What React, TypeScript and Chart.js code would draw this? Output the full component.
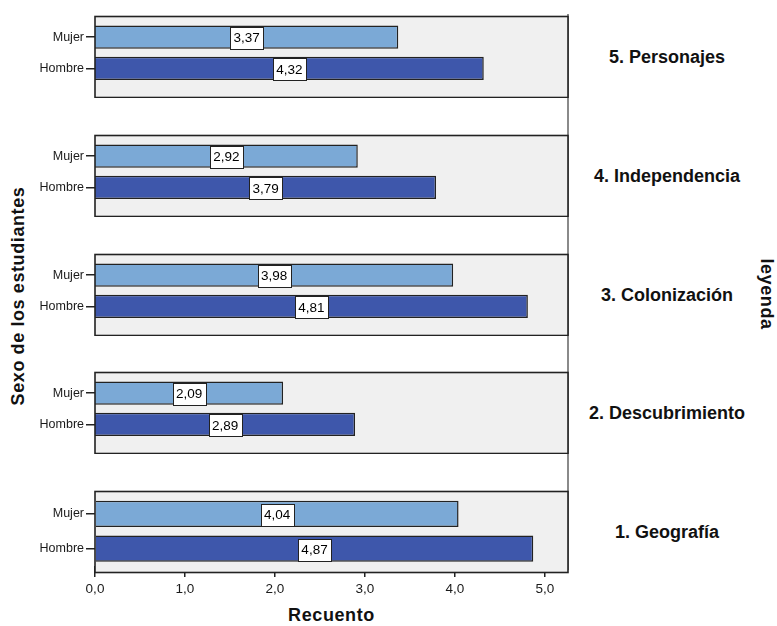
import React, { useEffect, useRef } from 'react';
import { Chart, registerables } from 'chart.js';

Chart.register(...registerables);

// ---- Data ----
const PANEL_NAMES = ['5. Personajes', '4. Independencia', '3. Colonización', '2. Descubrimiento', '1. Geografía'];
const SEX_LABELS = ['Mujer', 'Hombre'];
const MUJER = [3.37, 2.92, 3.98, 2.09, 4.04];
const HOMBRE = [4.32, 3.79, 4.81, 2.89, 4.87];
const X_TICKS = [0, 1, 2, 3, 4, 5];
const X_MAX = 5.256;
const X_TITLE = 'Recuento';
const Y_TITLE = 'Sexo de los estudiantes';
const LEGEND_TITLE = 'leyenda';

// ---- Layout / style ----
const W = 777;
const H = 626;
const PLOT_LEFT = 95;
const PLOT_RIGHT = 568;
const FIRST_TOP = 14;
const STEP = 118.75;
const PANEL_H = 81;
const INSET_TOP = 5;
const INSET_BOTTOM = 4;
const CANVAS_MARGIN = 2;
const FONT = '"Liberation Sans", Arial, Helvetica, sans-serif';
const LIGHT = '#7ba9d6';
const DARK = '#3e57ab';
const PANEL_FILL = '#f0f0f0';
const LINE = '#222222';

Chart.defaults.font.family = FONT;

const fmt = (v: number, d: number) => v.toFixed(d).replace('.', ',');

function panelTop(i: number) {
  return Math.round(FIRST_TOP + i * STEP);
}

function Panel({ index }: { index: number }) {
  const ref = useRef<HTMLCanvasElement>(null);
  const isLast = index === PANEL_NAMES.length - 1;
  const top = panelTop(index) - CANVAS_MARGIN;
  const height = isLast ? H - top : PANEL_H + 2 * CANVAS_MARGIN + 1;
  const areaBottom = CANVAS_MARGIN + PANEL_H - INSET_BOTTOM;

  useEffect(() => {
    const values = [MUJER[index], HOMBRE[index]];
    const panelPlugin = {
      id: 'panelBox',
      beforeDatasetsDraw(chart: any) {
        const { ctx, chartArea } = chart;
        ctx.save();
        ctx.fillStyle = PANEL_FILL;
        ctx.fillRect(chartArea.left, chartArea.top - INSET_TOP, chartArea.right - chartArea.left, PANEL_H);
        ctx.restore();
      },
      afterDatasetsDraw(chart: any) {
        const { ctx, chartArea } = chart;
        ctx.save();
        ctx.strokeStyle = LINE;
        ctx.lineWidth = 1.6;
        ctx.strokeRect(chartArea.left, chartArea.top - INSET_TOP, chartArea.right - chartArea.left, PANEL_H);
        const meta = chart.getDatasetMeta(0);
        ctx.font = `13.5px ${FONT}`;
        ctx.textAlign = 'center';
        ctx.textBaseline = 'middle';
        meta.data.forEach((bar: any, j: number) => {
          const p = bar.getProps(['x', 'y', 'base'], true);
          const cx = (p.base + p.x) / 2;
          const cy = p.y + 1;
          const text = fmt(chart.data.datasets[0].data[j], 2);
          const tw = ctx.measureText(text).width;
          const bw = Math.round(tw + 7);
          const bh = 22;
          const bx = Math.round(cx - bw / 2) + 0.5;
          const by = Math.round(cy - bh / 2) + 0.5;
          ctx.fillStyle = '#ffffff';
          ctx.fillRect(bx, by, bw, bh);
          ctx.strokeStyle = LINE;
          ctx.lineWidth = 1;
          ctx.strokeRect(bx, by, bw, bh);
          ctx.fillStyle = '#000000';
          ctx.fillText(text, cx, cy + 0.5);
        });
        ctx.restore();
      },
    };

    const chart = new Chart(ref.current as HTMLCanvasElement, {
      type: 'bar',
      data: {
        labels: SEX_LABELS,
        datasets: [
          {
            data: values,
            backgroundColor: [LIGHT, DARK],
            borderColor: LINE,
            borderWidth: 1.5,
            barPercentage: 0.75,
            categoryPercentage: 1,
          },
        ],
      },
      options: {
        indexAxis: 'y',
        responsive: false,
        animation: false,
        events: [],
        layout: {
          padding: {
            left: 0,
            right: W - PLOT_RIGHT,
            top: CANVAS_MARGIN + INSET_TOP,
            bottom: isLast ? 0 : height - areaBottom,
          },
        },
        plugins: { legend: { display: false }, tooltip: { enabled: false }, title: { display: false } },
        scales: {
          x: {
            type: 'linear',
            min: 0,
            max: X_MAX,
            display: isLast,
            afterBuildTicks: (scale: any) => {
              scale.ticks = X_TICKS.map((v) => ({ value: v }));
            },
            afterFit: (scale: any) => {
              scale.height = height - areaBottom;
            },
            ticks: {
              includeBounds: false,
              callback: (v: any) => fmt(Number(v), 1),
              font: { size: 13.5 },
              color: '#1a1a1a',
              padding: 4,
              maxRotation: 0,
            },
            grid: {
              display: true,
              drawOnChartArea: false,
              drawTicks: true,
              tickLength: 11,
              color: LINE,
              lineWidth: 1.5,
            },
            border: { display: false },
          },
          y: {
            type: 'category',
            offset: true,
            afterFit: (scale: any) => {
              scale.width = PLOT_LEFT;
            },
            ticks: { font: { size: 12.5 }, color: '#1a1a1a', padding: 2, autoSkip: false },
            grid: {
              display: true,
              offset: false,
              drawOnChartArea: false,
              drawTicks: true,
              tickLength: 9,
              color: LINE,
              lineWidth: 1.5,
            },
            border: { display: false },
          },
        },
      } as any,
      plugins: [panelPlugin],
    });
    return () => chart.destroy();
  }, [index]);

  return (
    <canvas
      ref={ref}
      width={W}
      height={height}
      style={{ position: 'absolute', left: 0, top, width: W, height, zIndex: 1 }}
    />
  );
}

const titleStyle: React.CSSProperties = {
  position: 'absolute',
  fontFamily: FONT,
  fontWeight: 'bold',
  fontSize: 18,
  color: '#111',
  whiteSpace: 'nowrap',
  lineHeight: 1.15,
};

export default function App() {
  const lastBottom = panelTop(PANEL_NAMES.length - 1) + PANEL_H;
  return (
    <div style={{ position: 'absolute', left: 0, top: 0, width: W, height: H, background: '#fff', overflow: 'hidden' }}>
      <div
        style={{
          position: 'absolute',
          left: PLOT_RIGHT - 1,
          top: FIRST_TOP,
          width: 2,
          height: lastBottom - FIRST_TOP,
          background: '#8a8a8a',
          zIndex: 0,
        }}
      />
      {PANEL_NAMES.map((_, i) => (
        <Panel key={i} index={i} />
      ))}
      {PANEL_NAMES.map((name, i) => (
        <div
          key={'l' + i}
          style={{
            ...titleStyle,
            left: 667,
            top: panelTop(i) + PANEL_H / 2 + 2,
            transform: 'translate(-50%, -50%)',
          }}
        >
          {name}
        </div>
      ))}
      <div
        style={{
          ...titleStyle,
          left: 18,
          top: 296,
          letterSpacing: 0.6,
          transform: 'translate(-50%, -50%) rotate(-90deg)',
        }}
      >
        {Y_TITLE}
      </div>
      <div
        style={{
          ...titleStyle,
          left: 767,
          top: 294,
          letterSpacing: 0.6,
          transform: 'translate(-50%, -50%) rotate(90deg)',
        }}
      >
        {LEGEND_TITLE}
      </div>
      <div
        style={{
          ...titleStyle,
          left: (PLOT_LEFT + PLOT_RIGHT) / 2,
          top: 615,
          letterSpacing: 0.6,
          transform: 'translate(-50%, -50%)',
        }}
      >
        {X_TITLE}
      </div>
    </div>
  );
}
